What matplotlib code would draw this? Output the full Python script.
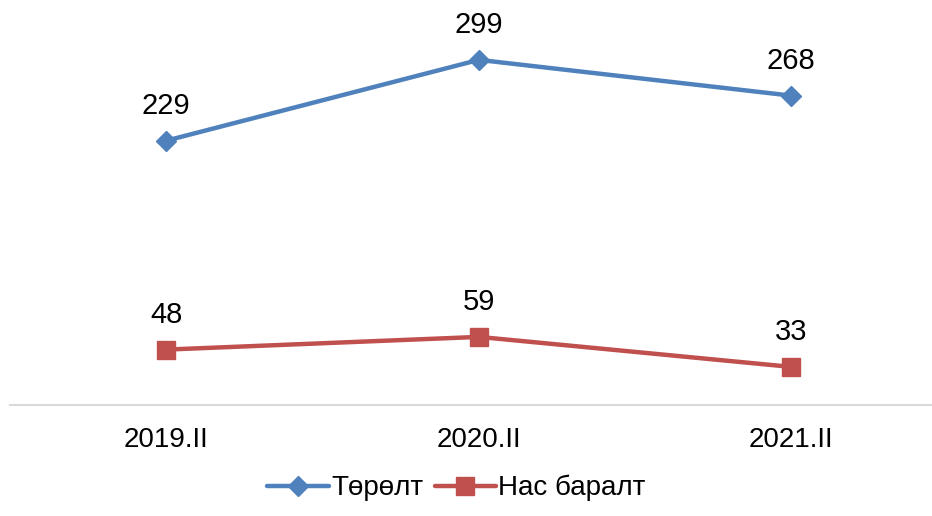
import matplotlib
matplotlib.use("Agg")
import matplotlib.pyplot as plt

plt.rcParams['font.family'] = ['Liberation Sans', 'DejaVu Sans']

periods = ["2019.II", "2020.II", "2021.II"]
births = [229, 299, 268]
deaths = [48, 59, 33]
series_names = ["Төрөлт", "Нас баралт"]

fig = plt.figure(figsize=(9.32, 5.16), dpi=100)
ax = fig.add_axes([10 / 932, 111 / 516, 1 - 10 / 932, 404 / 516])

x = list(range(len(periods)))
ax.plot(x, births, color='#4F81BD', lw=3.2, marker='D', ms=10,
        label=series_names[0], solid_capstyle='round')
ax.plot(x, deaths, color='#C0504D', lw=3.2, marker='s', ms=13,
        label=series_names[1], solid_capstyle='round')

for xi, v in zip(x, births):
    ax.annotate(str(v), (xi, v), xytext=(0, 15), textcoords='offset points',
                ha='center', va='bottom', fontsize=21)
for xi, v in zip(x, deaths):
    ax.annotate(str(v), (xi, v), xytext=(0, 15), textcoords='offset points',
                ha='center', va='bottom', fontsize=21)

ax.set_xlim(-0.5, 2.45)
ax.set_ylim(0, 350)
ax.set_xticks(x)
ax.set_xticklabels(periods, fontsize=20)
ax.tick_params(axis='x', length=0, pad=16)
ax.set_yticks([])
for s in ['top', 'right', 'left']:
    ax.spines[s].set_visible(False)
ax.spines['bottom'].set_color('#D9D9D9')
ax.spines['bottom'].set_linewidth(1.5)

fig.legend(loc='lower center', bbox_to_anchor=(0.49, -0.02), ncol=2,
           frameon=False, fontsize=20, handlelength=2.2, handletextpad=0.1,
           columnspacing=0.4)

fig.savefig("out.png", dpi=100)
